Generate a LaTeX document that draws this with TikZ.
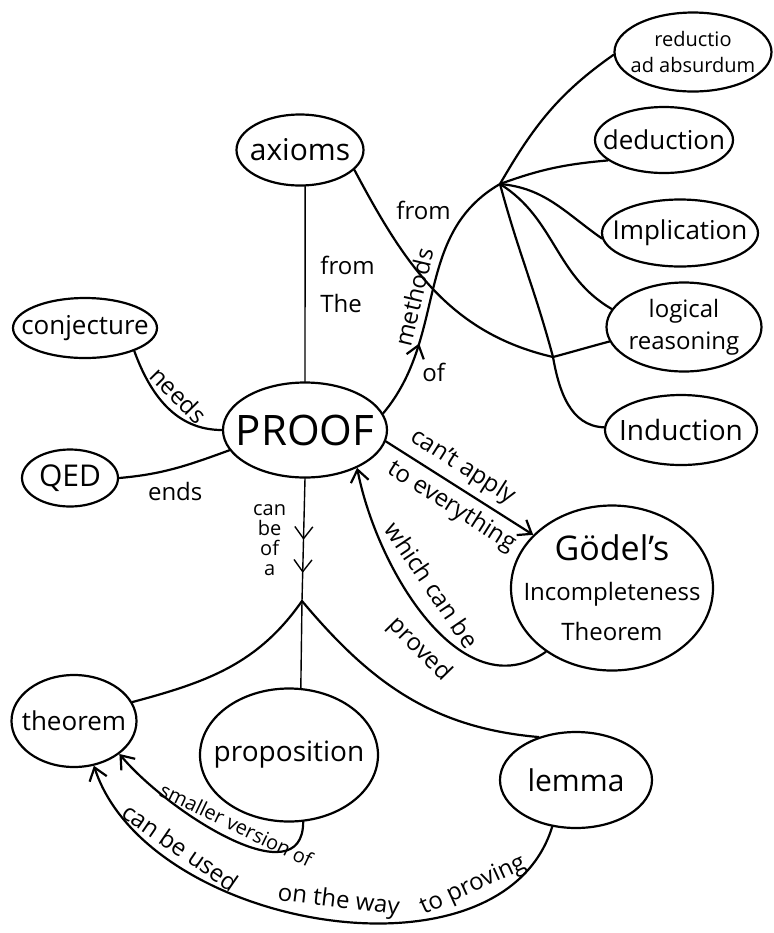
\documentclass[tikz,border=0pt]{standalone}
\usepackage{fontspec}
\setmainfont{Open Sans}
\usetikzlibrary{shapes.geometric,arrows.meta,decorations.markings}

\tikzset{
  bubble/.style 2 args={draw, ellipse, line width=1.1pt, inner sep=0pt, minimum width=#1, minimum height=#2},
  hand/.style 2 args={font=\fontsize{#1}{#2}\selectfont},
  lbl/.style={hand={12}{14}},
  conn/.style={line width=1.1pt},
  hairline/.style={line width=0.7pt},
  midarrow/.style={postaction={decorate}, decoration={markings, mark=at position #1 with {\arrow{>}}}},
  twoarrows/.style={postaction={decorate}, decoration={markings, mark=at position 0.5 with {\arrow{>}}, mark=at position 0.77 with {\arrow{>}}}}
}

\begin{document}
\begin{tikzpicture}[x=0.5pt, y=0.5pt, >={Straight Barb[length=6pt,width=9pt]}, line cap=round]
    \useasboundingbox (0,0) rectangle (773,-933);

    % concepts
    \node[bubble={63.5pt}{35.5pt}, label={[hand={15}{17}]center:axioms}] (axioms) at (300,-150) {};
    \node[bubble={78.5pt}{39.5pt}, label={[hand={10}{13}, align=center]center:reductio\\ad absurdum}] (reductio) at (693,-52) {};
    \node[bubble={69pt}{33pt}, label={[hand={13}{15}]center:deduction}] (deduction) at (664,-140) {};
    \node[bubble={78pt}{33.5pt}, label={[hand={13}{15}]center:Implication}] (implication) at (680,-233) {};
    \node[bubble={77.5pt}{44.5pt}, label={[hand={12}{16}, align=center]center:logical\\reasoning}] (logic) at (684,-327) {};
    \node[bubble={76pt}{35pt}, label={[hand={14}{16}]center:Induction}] (induction) at (681,-430) {};
    \node[bubble={72pt}{30pt}, label={[hand={13}{15}]center:conjecture}] (conj) at (85,-328) {};
    \node[bubble={82pt}{47.5pt}, label={[hand={21}{24}]center:PROOF}] (proof) at (305,-430) {};
    \node[bubble={48pt}{28.5pt}, label={[hand={15}{17}]center:QED}] (qed) at (70,-478) {};
    \node[bubble={101pt}{82.5pt}, label={[hand={12}{20}, align=center]center:{\fontsize{17}{20}\selectfont Gödel's}\\Incompleteness\\Theorem}] (godel) at (612,-588) {};
    \node[bubble={62.5pt}{46pt}, label={[hand={13}{15}]center:theorem}] (theorem) at (74,-721) {};
    \node[bubble={89pt}{66.5pt}, label={[hand={14}{16}]center:proposition}] (prop) at (289,-755) {};
    \node[bubble={76pt}{48pt}, label={[hand={15}{17}]center:lemma}] (lemma) at (576,-780) {};

    % branch points
    \coordinate (mhub) at (500,-184);
    \coordinate (lrj) at (553,-357);
    \coordinate (kind) at (302,-601);

    % methods
    \draw[hairline] (axioms.-82) -- node[midway, right=4pt, lbl, hand={12}{19}, align=left] {from\\The} (proof.90);
    \draw[conn] (axioms.-20) to[out=-62, in=167] node[pos=0.15, right=6pt, lbl] {from} (lrj);
    \draw[conn] (lrj) to[out=15, in=195] (logic.191);
    \draw[conn] (lrj) to[out=-80, in=178] (induction.178);
    \draw[conn] (mhub) to[out=-75, in=105] (lrj);
    \draw[conn] (mhub) to[out=60, in=215] (reductio.182);
    \draw[conn] (mhub) to[out=20, in=185] (deduction.200);
    \draw[conn] (mhub) to[out=-5, in=145] (implication.184);
    \draw[conn] (mhub) to[out=-32, in=150] (logic.166);
    \draw[conn, midarrow=0.3] (proof.12) to[out=50, in=210] node[pos=0.45, sloped, above, lbl] {methods} node[pos=0.17, right=3pt, lbl] {of} (mhub);

    % around the proof
    \draw[conn] (conj.-25) to[out=-70, in=180] node[midway, sloped, above, lbl] {needs} (proof.180);
    \draw[conn] (proof.195) to[out=200, in=5] node[midway, below=3pt, lbl] {ends} (qed.east);
    \draw[conn, ->] (proof.-8) -- node[pos=0.45, sloped, above, lbl] {can't apply} node[pos=0.52, sloped, below, lbl] {to everything} (godel.146);
    \draw[conn, ->] (godel.224) to[out=215, in=-79] node[pos=0.58, sloped, above=4pt, lbl] {which can be} node[pos=0.45, sloped, below=3pt, lbl] {proved} (proof.-36);

    % kinds of results
    \draw[hairline, twoarrows] (proof.south) -- node[midway, left=5pt, hand={10}{10}, align=center] {can\\be\\of\\a} (kind);
    \draw[conn] (kind) to[out=235, in=15] (theorem.18);
    \draw[hairline] (kind) -- (prop.80);
    \draw[conn] (kind) to[out=-50, in=175] (lemma.131);
    \draw[conn, ->] (prop.-78) to[out=-90, in=-50] node[midway, sloped, above, hand={10}{12}] {smaller version of} (theorem.-36);
    \draw[conn, ->] (lemma.243) to[out=253, in=-72, looseness=0.95] node[pos=0.22, sloped, above, lbl] {to proving} node[pos=0.48, sloped, above, lbl] {on the way} node[pos=0.77, sloped, above, lbl] {can be used} (theorem.-66);
\end{tikzpicture}
\end{document}
